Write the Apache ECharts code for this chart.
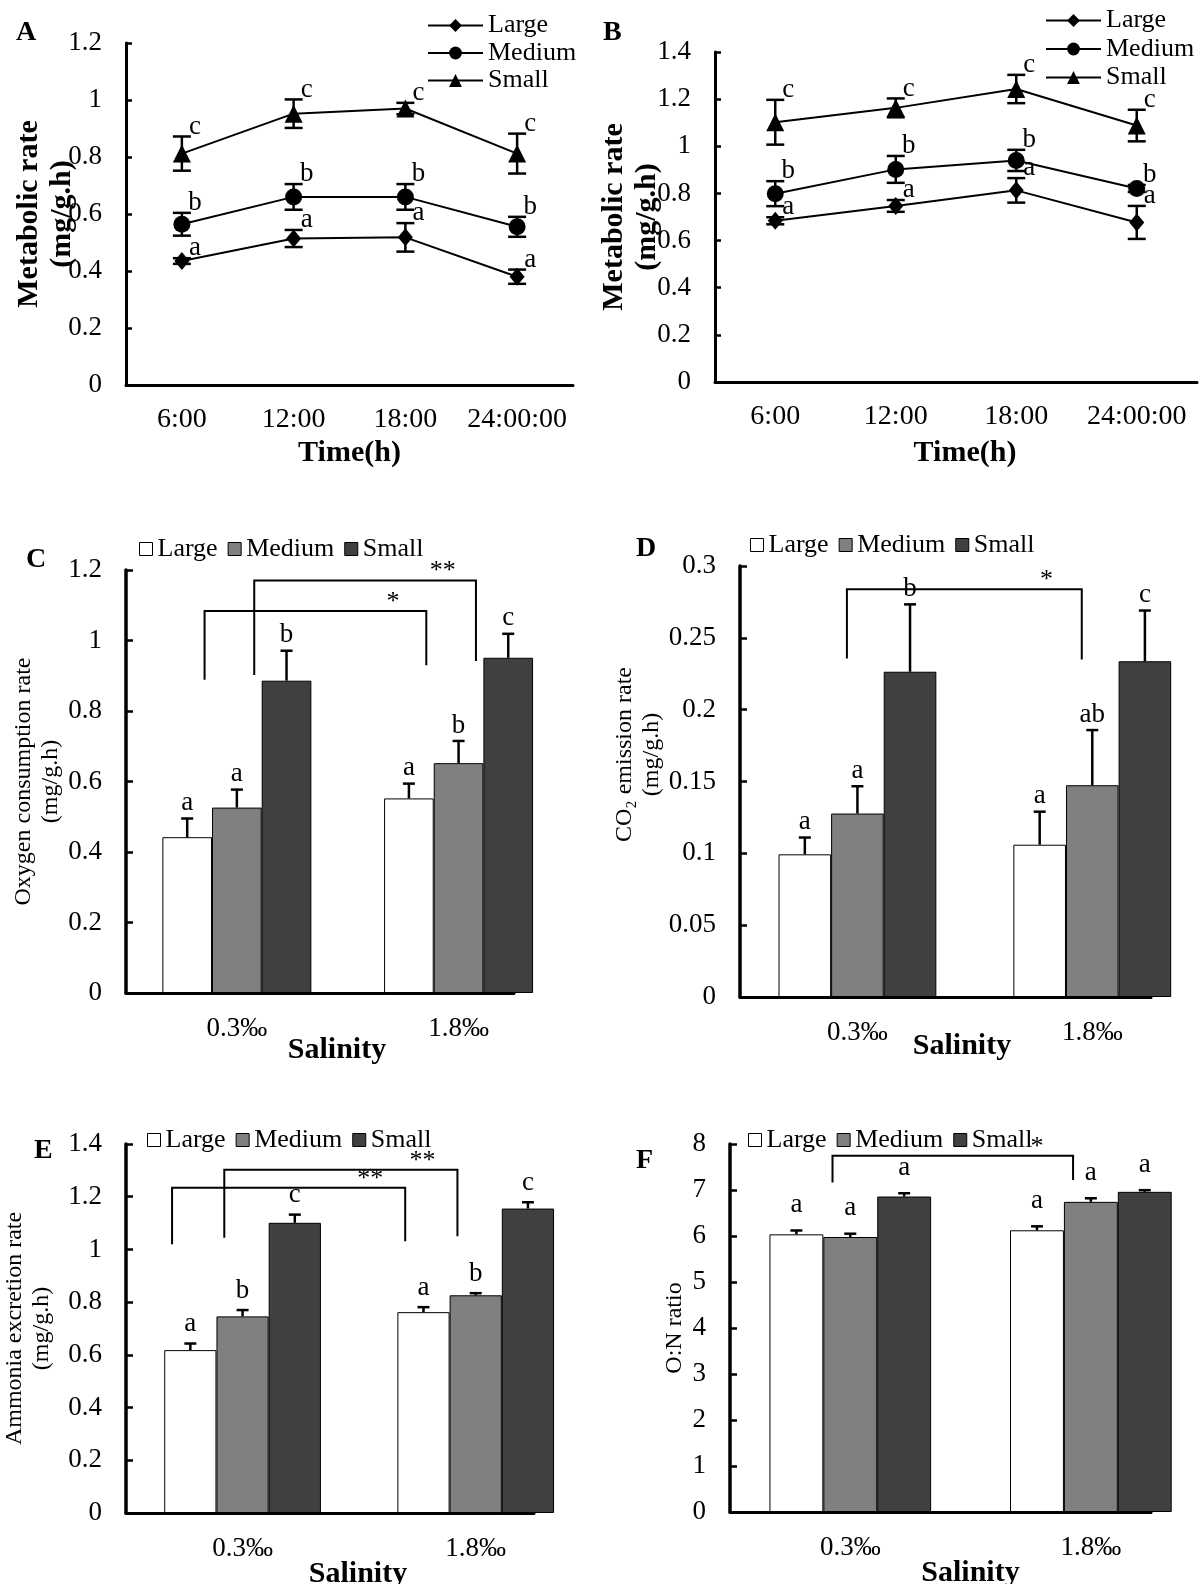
<!DOCTYPE html>
<html>
<head>
<meta charset="utf-8">
<title>Metabolic rate, O2 / CO2 / ammonia by size and salinity</title>
<script src="https://cdn.jsdelivr.net/npm/echarts@6.0.0/dist/echarts.min.js"></script>
<style>
  body { margin: 0; background: #fff; }
  #page { position: relative; width: 1200px; height: 1584px; }
  .panel { position: absolute; left: 0; top: 0; width: 1200px; height: 1584px; }
</style>
</head>
<body>
<div id="page">
  <div class="panel" id="panelA"></div>
  <div class="panel" id="panelB"></div>
  <div class="panel" id="panelC"></div>
  <div class="panel" id="panelD"></div>
  <div class="panel" id="panelE"></div>
  <div class="panel" id="panelF"></div>
</div>
<script>
var FONT = "Liberation Serif";

// categories
var times = ["6:00", "12:00", "18:00", "24:00:00"];
var sizes = ["Large", "Medium", "Small"];
var salinity = ["0.3‰", "1.8‰"];

// A: metabolic rate over the day (mean, SE)
var aLarge = [0.435, 0.514, 0.518, 0.380];
var aLargeErr = [0.010, 0.030, 0.050, 0.025];
var aMedium = [0.564, 0.660, 0.660, 0.555];
var aMediumErr = [0.040, 0.045, 0.045, 0.035];
var aSmall = [0.812, 0.952, 0.970, 0.812];
var aSmallErr = [0.060, 0.050, 0.020, 0.070];
var aLetters = [["a", "a", "a", "a"], ["b", "b", "b", "b"], ["c", "c", "c", "c"]];

// B
var bLarge = [0.684, 0.747, 0.813, 0.677];
var bLargeErr = [0.015, 0.025, 0.052, 0.070];
var bMedium = [0.799, 0.902, 0.940, 0.821];
var bMediumErr = [0.053, 0.057, 0.045, 0.015];
var bSmall = [1.102, 1.163, 1.243, 1.088];
var bSmallErr = [0.095, 0.040, 0.060, 0.067];
var bLetters = [["a", "a", "a", "a"], ["b", "b", "b", "b"], ["c", "c", "c", "c"]];

// C: oxygen consumption rate
var cLarge = [0.442, 0.552];
var cLargeErr = [0.053, 0.042];
var cMedium = [0.526, 0.652];
var cMediumErr = [0.051, 0.063];
var cSmall = [0.886, 0.951];
var cSmallErr = [0.085, 0.068];
var cLetters = [["a", "a"], ["a", "b"], ["b", "c"]];
var cBracketSize = [0, 1];
var cBracketTop = [1.084, 1.170];
var cBracketEnds = [[0.889, 0.930], [0.902, 0.942]];
var cBracketMarks = ["*", "**"];

// D: CO2 emission rate
var dLarge = [0.0993, 0.106];
var dLargeErr = [0.0117, 0.023];
var dMedium = [0.1277, 0.1474];
var dMediumErr = [0.019, 0.0384];
var dSmall = [0.2264, 0.2337];
var dSmallErr = [0.0469, 0.0353];
var dLetters = [["a", "a"], ["a", "ab"], ["b", "c"]];
var dBracketSize = [1];
var dBracketTop = [0.2838];
var dBracketEnds = [[0.2357, 0.2349]];
var dBracketMarks = ["*"];

// E: ammonia excretion rate
var eLarge = [0.618, 0.762];
var eLargeErr = [0.025, 0.019];
var eMedium = [0.746, 0.826];
var eMediumErr = [0.024, 0.008];
var eSmall = [1.101, 1.155];
var eSmallErr = [0.031, 0.024];
var eLetters = [["a", "a"], ["b", "b"], ["c", "c"]];
var eBracketSize = [0, 1];
var eBracketTop = [1.234, 1.302];
var eBracketEnds = [[1.020, 1.031], [1.044, 1.050]];
var eBracketMarks = ["**", "**"];

// F: O:N ratio
var fLarge = [6.036, 6.124];
var fLargeErr = [0.084, 0.086];
var fMedium = [5.978, 6.742];
var fMediumErr = [0.072, 0.078];
var fSmall = [6.858, 6.960];
var fSmallErr = [0.072, 0.036];
var fLetters = [["a", "a"], ["a", "a"], ["a", "a"]];
var fBracketSize = [1];
var fBracketTop = [7.745];
var fBracketEnds = [[7.164, 7.215]];
var fBracketMarks = ["*"];

function txt(size, bold) {
  return { fontFamily: FONT, fontSize: size, fontWeight: bold ? "bold" : "normal", color: "#000" };
}

function panelLetter(ch, x, y) {
  return { type: "text", left: x, top: y, style: { text: ch, font: 'bold 28px "' + FONT + '"', fill: "#000" } };
}

// 误差线 + 字母（折线图）
function lineErrorItem(means, errs, letters) {
  return function (params, api) {
    var i = params.dataIndex;
    var hi = api.coord([i, means[i] + errs[i]]);
    var lo = api.coord([i, means[i] - errs[i]]);
    var x = hi[0], cap = 9;
    var ls = { stroke: "#000", lineWidth: 2.5 };
    return {
      type: "group",
      children: [
        { type: "line", shape: { x1: x, y1: lo[1], x2: x, y2: hi[1] }, style: ls },
        { type: "line", shape: { x1: x - cap, y1: hi[1], x2: x + cap, y2: hi[1] }, style: ls },
        { type: "line", shape: { x1: x - cap, y1: lo[1], x2: x + cap, y2: lo[1] }, style: ls },
        { type: "text", x: x + 13, y: hi[1] - 10,
          style: { text: letters[i], font: '27px "' + FONT + '"', fill: "#000", align: "center", verticalAlign: "middle" } }
      ]
    };
  };
}

function linePanel(id, cfg) {
  var chart = echarts.init(document.getElementById(id));
  var symbols = ["diamond", "circle", "triangle"];
  var symbolSizes = [[15, 18], 17, 18];
  var series = [];
  sizes.forEach(function (name, s) {
    series.push({
      name: name, type: "line", data: cfg.means[s],
      symbol: symbols[s], symbolSize: symbolSizes[s],
      lineStyle: { color: "#000", width: 2 }, itemStyle: { color: "#000" }, z: 4
    });
  });
  sizes.forEach(function (name, s) {
    series.push({
      type: "custom", silent: true, z: 3,
      renderItem: lineErrorItem(cfg.means[s], cfg.errs[s], cfg.letters[s]),
      data: cfg.means[s].map(function (v, i) { return [i, v]; })
    });
  });
  chart.setOption({
    animation: false,
    graphic: [panelLetter(cfg.label, cfg.labelPos[0], cfg.labelPos[1])],
    legend: {
      orient: "vertical", left: cfg.legendPos[0], top: cfg.legendPos[1],
      itemWidth: 55, itemHeight: 16, itemGap: cfg.legendGap,
      textStyle: Object.assign(txt(26), { lineHeight: 27 }),
      data: sizes
    },
    grid: Object.assign({ outerBoundsMode: "none" }, cfg.grid),
    xAxis: {
      type: "category", data: times, boundaryGap: true,
      axisLine: { lineStyle: { color: "#000", width: 3 } },
      axisTick: { inside: true, length: 8, lineStyle: { color: "#000", width: 2.5 } },
      axisLabel: Object.assign(txt(28), { margin: 21, interval: 0 }),
      name: "Time(h)", nameLocation: "middle", nameGap: cfg.xNameGap, nameMoveOverlap: false,
      nameTextStyle: Object.assign(txt(30, true), { padding: [0, 0, 0, cfg.xNamePad] })
    },
    yAxis: {
      type: "value", min: 0, max: cfg.yMax, interval: 0.2,
      axisLine: { show: true, lineStyle: { color: "#000", width: 3 } },
      axisTick: { show: true, inside: true, length: 6, lineStyle: { color: "#000", width: 2.5 } },
      splitLine: { show: false },
      axisLabel: Object.assign(txt(27), { margin: 24 }),
      name: "Metabolic rate\n(mg/g.h)", nameLocation: "middle", nameRotate: 90,
      nameGap: cfg.yNameGap, nameMoveOverlap: false,
      nameTextStyle: Object.assign(txt(30, true), { lineHeight: 33 })
    },
    series: series
  });
}

// 柱状图误差线（只画上半段）+ 显著性字母
function barErrorItem(means, errs, letters, s, bw, gap) {
  return function (params, api) {
    var g = params.dataIndex;
    var base = api.coord([g, means[g]]);
    var top = api.coord([g, means[g] + errs[g]]);
    var x = base[0] + (s - 1) * bw, cap = 6;
    var ls = { stroke: "#000", lineWidth: 2.5 };
    return {
      type: "group",
      children: [
        { type: "line", shape: { x1: x, y1: base[1], x2: x, y2: top[1] }, style: ls },
        { type: "line", shape: { x1: x - cap, y1: top[1], x2: x + cap, y2: top[1] }, style: ls },
        { type: "text", x: x, y: top[1] - gap,
          style: { text: letters[g], font: '27px "' + FONT + '"', fill: "#000", align: "center", verticalAlign: "bottom" } }
      ]
    };
  };
}

function bracketItem(sizeIdx, tops, ends, marks, bw, legShift) {
  return function (params, api) {
    var k = params.dataIndex;
    var dx = (sizeIdx[k] - 1 + legShift) * bw;
    var pL = api.coord([0, ends[k][0]]);
    var pR = api.coord([1, ends[k][1]]);
    var yT = api.coord([0, tops[k]])[1];
    var xL = pL[0] + dx, xR = pR[0] + dx;
    return {
      type: "group",
      children: [
        { type: "polyline", shape: { points: [[xL, pL[1]], [xL, yT], [xR, yT], [xR, pR[1]]] },
          style: { stroke: "#000", fill: null, lineWidth: 2 } },
        { type: "text", x: xL + 0.85 * (xR - xL), y: yT + 4,
          style: { text: marks[k], font: '26px "' + FONT + '"', fill: "#000", align: "center", verticalAlign: "bottom" } }
      ]
    };
  };
}

function barPanel(id, cfg) {
  var chart = echarts.init(document.getElementById(id));
  var xMin = -0.5, xMax = 1.25;
  var bw = 0.224 * cfg.grid.width / (xMax - xMin);
  var fills = ["#ffffff", "#808080", "#404040"];
  var series = [];
  sizes.forEach(function (name, s) {
    series.push({
      name: name, type: "bar", clip: true, barWidth: bw, barGap: "0%",
      itemStyle: { color: fills[s], borderColor: "#000", borderWidth: 1 },
      data: cfg.means[s].map(function (v, g) { return [g, v]; })
    });
  });
  sizes.forEach(function (name, s) {
    series.push({
      type: "custom", silent: true, z: 3, clip: false,
      renderItem: barErrorItem(cfg.means[s], cfg.errs[s], cfg.letters[s], s, bw, cfg.letterGap),
      data: cfg.means[s].map(function (v, g) { return [g, v]; })
    });
  });
  series.push({
    type: "custom", silent: true, z: 3, clip: false,
    renderItem: bracketItem(cfg.bracketSize, cfg.bracketTop, cfg.bracketEnds, cfg.bracketMarks, bw, cfg.legShift),
    data: cfg.bracketTop.map(function (t) { return [0, t]; })
  });
  chart.setOption({
    animation: false,
    graphic: [panelLetter(cfg.label, cfg.labelPos[0], cfg.labelPos[1])],
    legend: {
      left: cfg.legendPos[0], top: cfg.legendPos[1],
      icon: "rect", itemWidth: 13, itemHeight: 13, itemGap: 10,
      itemStyle: { borderColor: "#000", borderWidth: 1 },
      textStyle: txt(26),
      data: sizes
    },
    grid: Object.assign({ outerBoundsMode: "none" }, cfg.grid),
    xAxis: {
      type: "value", min: xMin, max: xMax, interval: 0.5,
      axisLine: { show: true, onZero: false, lineStyle: { color: "#000", width: 3 } },
      axisTick: { show: false },
      splitLine: { show: false },
      axisLabel: Object.assign(txt(27), {
        margin: 22,
        formatter: function (v) {
          var i = Math.round(v);
          return Math.abs(v - i) < 1e-6 && salinity[i] ? salinity[i] : "";
        }
      }),
      name: "Salinity", nameLocation: "middle", nameGap: cfg.xNameGap, nameMoveOverlap: false,
      nameTextStyle: Object.assign(txt(30, true), { padding: [0, 0, 0, cfg.xNamePad] })
    },
    yAxis: {
      type: "value", min: 0, max: cfg.yMax, interval: cfg.yInterval,
      axisLine: { show: true, onZero: false, lineStyle: { color: "#000", width: 3.5 } },
      axisTick: { show: true, inside: true, length: 7, lineStyle: { color: "#000", width: 2.5 } },
      splitLine: { show: false },
      axisLabel: Object.assign(txt(27), { margin: 24 }),
      name: cfg.yName, nameLocation: "middle", nameRotate: 90, nameGap: cfg.yNameGap,
      nameTextStyle: Object.assign(txt(24), { lineHeight: 27, padding: [0, 0, 0, cfg.yNamePad] })
    },
    series: series
  });
}

linePanel("panelA", {
  label: "A", labelPos: [16, 19],
  means: [aLarge, aMedium, aSmall], errs: [aLargeErr, aMediumErr, aSmallErr], letters: aLetters,
  grid: { left: 126, top: 43, width: 447, height: 342 },
  yMax: 1.2, yNameGap: 47, xNameGap: 53, xNamePad: 0,
  legendPos: [422, 7], legendGap: 0.5
});

linePanel("panelB", {
  label: "B", labelPos: [603, 19],
  means: [bLarge, bMedium, bSmall], errs: [bLargeErr, bMediumErr, bSmallErr], letters: bLetters,
  grid: { left: 715, top: 52, width: 482, height: 330 },
  yMax: 1.4, yNameGap: 51, xNameGap: 56, xNamePad: 18,
  legendPos: [1040, 2], legendGap: 1.5
});

barPanel("panelC", {
  label: "C", labelPos: [26, 546],
  means: [cLarge, cMedium, cSmall], errs: [cLargeErr, cMediumErr, cSmallErr], letters: cLetters,
  bracketSize: cBracketSize, bracketTop: cBracketTop, bracketEnds: cBracketEnds, bracketMarks: cBracketMarks,
  grid: { left: 126, top: 570, width: 388, height: 423 },
  yMax: 1.2, yInterval: 0.2, yName: "Oxygen consumption rate\n(mg/g.h)", yNameGap: 61, yNamePad: 0,
  xNameGap: 42, xNamePad: 34, letterGap: 2, legShift: 0.35,
  legendPos: [134, 531]
});

barPanel("panelD", {
  label: "D", labelPos: [636, 535],
  means: [dLarge, dMedium, dSmall], errs: [dLargeErr, dMediumErr, dSmallErr], letters: dLetters,
  bracketSize: dBracketSize, bracketTop: dBracketTop, bracketEnds: dBracketEnds, bracketMarks: dBracketMarks,
  grid: { left: 740, top: 566, width: 411, height: 431 },
  yMax: 0.3, yInterval: 0.05, yName: "CO₂ emission rate\n(mg/g.h)", yNameGap: 68, yNamePad: 54,
  xNameGap: 34, xNamePad: 33, letterGap: 2, legShift: -0.2,
  legendPos: [745, 527]
});

barPanel("panelE", {
  label: "E", labelPos: [34, 1137],
  means: [eLarge, eMedium, eSmall], errs: [eLargeErr, eMediumErr, eSmallErr], letters: eLetters,
  bracketSize: eBracketSize, bracketTop: eBracketTop, bracketEnds: eBracketEnds, bracketMarks: eBracketMarks,
  grid: { left: 126, top: 1144, width: 408, height: 369 },
  yMax: 1.4, yInterval: 0.2, yName: "Ammonia excretion rate\n(mg/g.h)", yNameGap: 71, yNamePad: 0,
  xNameGap: 46, xNamePad: 56, letterGap: 6, legShift: -0.35,
  legendPos: [142, 1122]
});

barPanel("panelF", {
  label: "F", labelPos: [636, 1147],
  means: [fLarge, fMedium, fSmall], errs: [fLargeErr, fMediumErr, fSmallErr], letters: fLetters,
  bracketSize: fBracketSize, bracketTop: fBracketTop, bracketEnds: fBracketEnds, bracketMarks: fBracketMarks,
  grid: { left: 730, top: 1144, width: 421, height: 368 },
  yMax: 8, yInterval: 1, yName: "O:N ratio", yNameGap: 42, yNamePad: 0,
  xNameGap: 46, xNamePad: 60, letterGap: 12, legShift: -0.33,
  legendPos: [743, 1122]
});
</script>
</body>
</html>
